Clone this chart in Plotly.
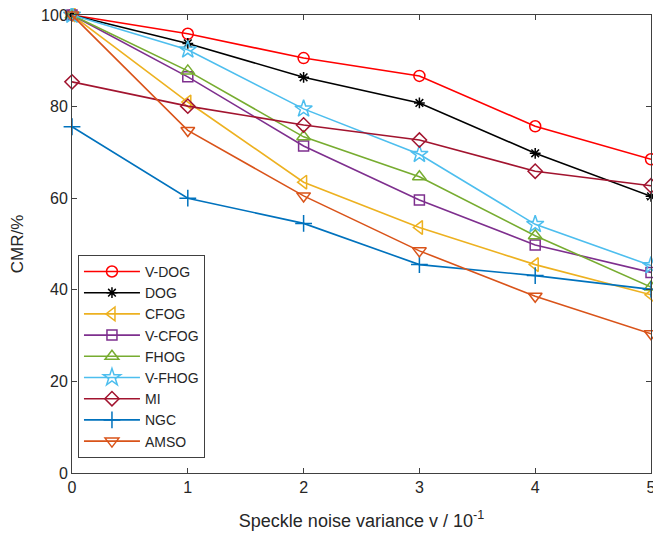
import plotly.graph_objects as go

x_vals = [0, 1, 2, 3, 4, 5]
series_names = ["V-DOG", "DOG", "CFOG", "V-CFOG", "FHOG", "V-FHOG", "MI", "NGC", "AMSO"]
v_dog = [100, 95.9, 90.6, 86.7, 75.7, 68.5]
dog = [100, 93.8, 86.4, 80.8, 69.8, 60.4]
cfog = [100, 81.0, 63.5, 53.6, 45.5, 38.9]
v_cfog = [100, 86.5, 71.4, 59.6, 49.8, 43.8]
fhog = [100, 87.8, 73.4, 64.7, 51.8, 40.6]
v_fhog = [100, 92.4, 79.5, 69.6, 54.3, 45.3]
mi = [85.4, 80.1, 76.0, 72.7, 65.9, 62.7]
ngc = [75.6, 60.0, 54.5, 45.5, 43.1, 40.1]
amso = [100, 74.8, 60.5, 48.5, 38.6, 30.4]
all_vals = [v_dog, dog, cfog, v_cfog, fhog, v_fhog, mi, ngc, amso]

colors = ["#FF0000", "#000000", "#EDB120", "#7E2F8E", "#77AC30", "#4DBEEE", "#A2142F", "#0072BD", "#D95319"]
symbols = ["circle-open", "asterisk-open", "triangle-left-open", "square-open", "triangle-up-open",
           "star-open", "diamond-open", "cross-thin-open", "triangle-down-open"]
sizes = [11, 9, 12, 10, 12, 13, 11, 12, 12]

fig = go.Figure()
for name, vals, c, s, sz in zip(series_names, all_vals, colors, symbols, sizes):
    fig.add_trace(go.Scatter(
        x=x_vals, y=vals, name=name, mode="lines+markers",
        line=dict(color=c, width=1.6),
        marker=dict(symbol=s, size=sz, color=c, line=dict(color=c, width=1.5)),
        cliponaxis=False,
    ))

axis_common = dict(showgrid=False, zeroline=False, showline=True, linecolor="#404040",
                   linewidth=1, mirror="ticks", ticks="inside", ticklen=5, tickcolor="#404040",
                   ticklabeloverflow="allow",
                   tickfont=dict(family="Liberation Sans, Arial", size=16, color="#262626"))

fig.update_layout(
    width=647, height=523,
    paper_bgcolor="white", plot_bgcolor="white",
    margin=dict(l=64, r=4, t=7, b=58),
    font=dict(family="Liberation Sans, Arial", color="#262626"),
    xaxis=dict(range=[0, 5], tickvals=[0, 1, 2, 3, 4, 5], automargin=False,
               title=dict(text="Speckle noise variance v / 10<sup>-1</sup>", font=dict(size=18), standoff=20),
               **axis_common),
    yaxis=dict(range=[0, 100], tickvals=[0, 20, 40, 60, 80, 100], automargin=False,
               title=dict(text="CMR/%", font=dict(size=17), standoff=18),
               **axis_common),
    legend=dict(x=0.0103, y=0.033, xanchor="left", yanchor="bottom",
                bgcolor="white", bordercolor="#404040", borderwidth=1,
                font=dict(size=14, color="#262626"), tracegroupgap=0, itemwidth=56),
    showlegend=True,
)

fig.write_html("out.html")
